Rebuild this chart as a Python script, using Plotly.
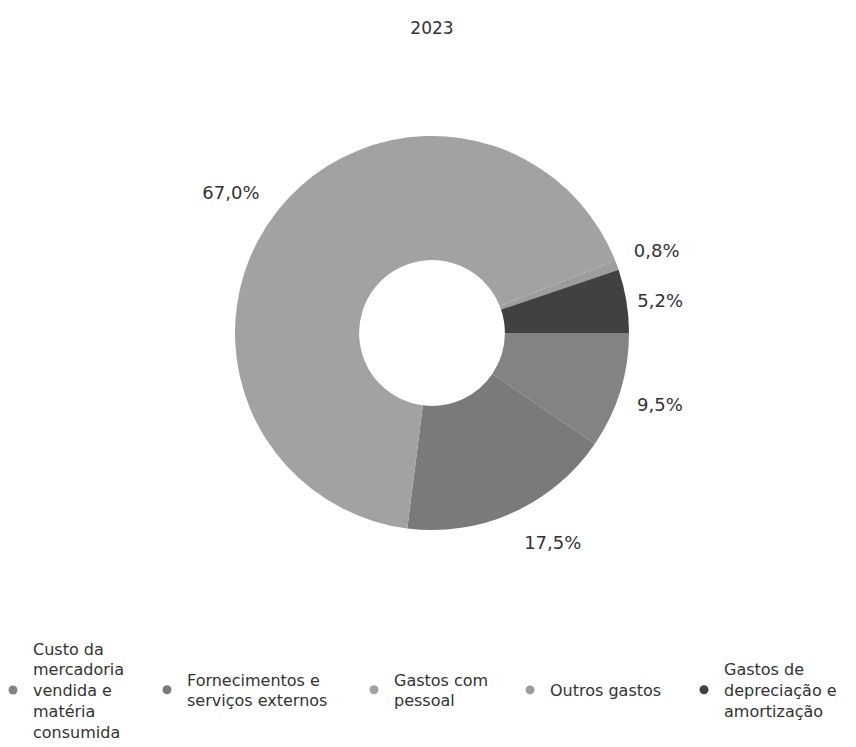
import plotly.graph_objects as go

title_text = "2023"
categories = [
    "Custo da<br>mercadoria<br>vendida e<br>matéria<br>consumida",
    "Fornecimentos e<br>serviços externos",
    "Gastos com<br>pessoal",
    "Outros gastos",
    "Gastos de<br>depreciação e<br>amortização",
]
values = [9.5, 17.5, 67.0, 0.8, 5.2]
colors = ["#838383", "#7a7a7a", "#a2a2a2", "#9d9d9d", "#414141"]

W, H = 856, 747
# pie geometry in figure pixels
pie_cx, pie_cy, pie_r = 424, 325, 197
legend_px = [0, 154, 361, 517, 691]   # left edge of each legend box
legend_cy = 682                        # vertical centre of the legend row

# invisible padding around the outside labels, to push them a little further out
NB = "\u00a0"
pct = "%{percent:.1%}"
label_templates = [
    NB + "<br>" + NB + pct,
    NB + "<br>" + pct,
    pct + NB + "<br>" + NB,
    NB + pct + "<br>" + NB,
    NB + pct,
]

fig = go.Figure()
fig.add_trace(go.Pie(
    labels=categories,
    values=values,
    hole=0.37,
    sort=False,
    direction="clockwise",
    rotation=90,
    domain=dict(x=[(pie_cx - pie_r) / W, (pie_cx + pie_r) / W],
                y=[(H - pie_cy - pie_r) / H, (H - pie_cy + pie_r) / H]),
    marker=dict(colors=colors, line=dict(width=0)),
    textposition="outside",
    texttemplate=label_templates,
    textfont=dict(family="DejaVu Sans", size=18, color="#333333"),
    showlegend=False,
))

legend_layout = {}
for i, (lab, col) in enumerate(zip(categories, colors)):
    lname = "legend" if i == 0 else f"legend{i + 1}"
    fig.add_trace(go.Scatter(
        x=[None], y=[None], mode="markers", name=lab,
        marker=dict(symbol="circle", size=9, color=col),
        showlegend=True, legend=lname,
    ))
    legend_layout[lname] = dict(
        orientation="v", xref="paper", yref="paper",
        x=legend_px[i] / W, xanchor="left",
        y=(H - legend_cy) / H, yanchor="middle",
        indentation=-15,
        font=dict(family="DejaVu Sans", size=16, color="#333333"),
        valign="middle", itemclick=False, itemdoubleclick=False,
        bgcolor="rgba(0,0,0,0)",
    )

fig.update_layout(
    width=W, height=H,
    separators=",.",
    margin=dict(t=0, b=0, l=0, r=0, pad=0),
    paper_bgcolor="white", plot_bgcolor="white",
    font=dict(family="DejaVu Sans", color="#333333"),
    title=dict(text=title_text, x=pie_cx / W, xanchor="center", xref="paper",
               y=1 - 20 / H, yref="container", yanchor="middle",
               font=dict(family="DejaVu Sans", size=17, color="#333333")),
    xaxis=dict(visible=False),
    yaxis=dict(visible=False),
    **legend_layout,
)
fig.write_html("out.html")
